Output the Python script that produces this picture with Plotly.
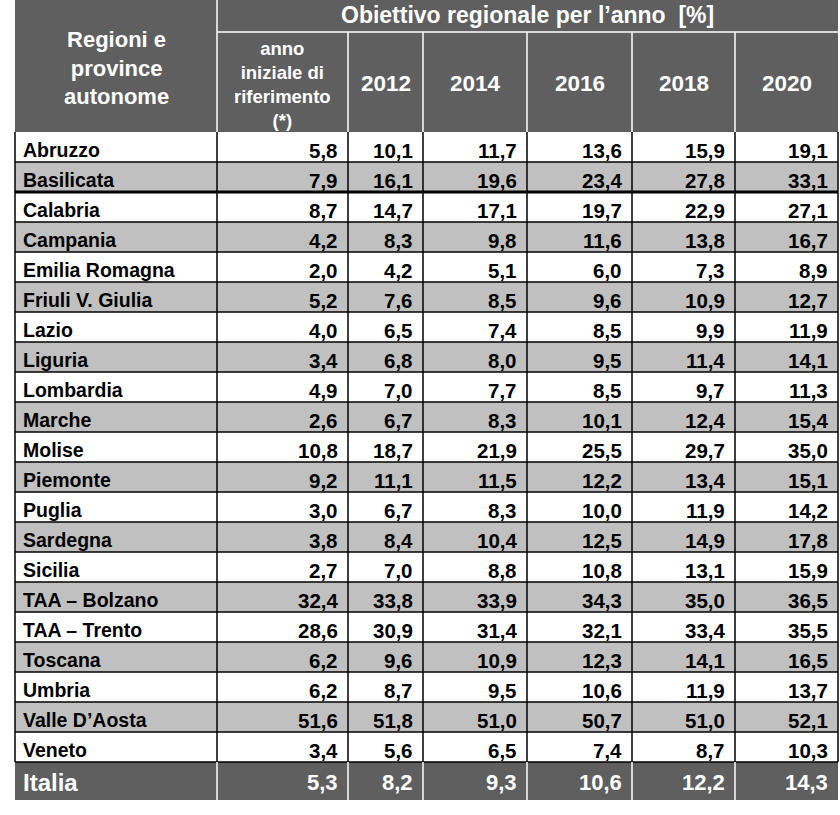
import plotly.graph_objects as go

regions = ["Abruzzo", "Basilicata", "Calabria", "Campania", "Emilia Romagna",
           "Friuli V. Giulia", "Lazio", "Liguria", "Lombardia", "Marche", "Molise",
           "Piemonte", "Puglia", "Sardegna", "Sicilia", "TAA – Bolzano", "TAA – Trento",
           "Toscana", "Umbria", "Valle D’Aosta", "Veneto"]
base_year = [5.8, 7.9, 8.7, 4.2, 2.0, 5.2, 4.0, 3.4, 4.9, 2.6, 10.8, 9.2, 3.0, 3.8, 2.7, 32.4, 28.6, 6.2, 6.2, 51.6, 3.4]
y2012 = [10.1, 16.1, 14.7, 8.3, 4.2, 7.6, 6.5, 6.8, 7.0, 6.7, 18.7, 11.1, 6.7, 8.4, 7.0, 33.8, 30.9, 9.6, 8.7, 51.8, 5.6]
y2014 = [11.7, 19.6, 17.1, 9.8, 5.1, 8.5, 7.4, 8.0, 7.7, 8.3, 21.9, 11.5, 8.3, 10.4, 8.8, 33.9, 31.4, 10.9, 9.5, 51.0, 6.5]
y2016 = [13.6, 23.4, 19.7, 11.6, 6.0, 9.6, 8.5, 9.5, 8.5, 10.1, 25.5, 12.2, 10.0, 12.5, 10.8, 34.3, 32.1, 12.3, 10.6, 50.7, 7.4]
y2018 = [15.9, 27.8, 22.9, 13.8, 7.3, 10.9, 9.9, 11.4, 9.7, 12.4, 29.7, 13.4, 11.9, 14.9, 13.1, 35.0, 33.4, 14.1, 11.9, 51.0, 8.7]
y2020 = [19.1, 33.1, 27.1, 16.7, 8.9, 12.7, 11.9, 14.1, 11.3, 15.4, 35.0, 15.1, 14.2, 17.8, 15.9, 36.5, 35.5, 16.5, 13.7, 52.1, 10.3]
italia_label = "Italia"
italia = [5.3, 8.2, 9.3, 10.6, 12.2, 14.3]
col_headers = ["anno<br>iniziale di<br>riferimento<br>(*)", "2012", "2014", "2016", "2018", "2020"]
first_header = "Regioni e<br>province<br>autonome"
group_header = "Obiettivo regionale per l’anno  [%]"

columns = [base_year, y2012, y2014, y2016, y2018, y2020]

# layout geometry
XE = [15, 217, 348, 423, 527, 632, 735, 838]
Y_TOP, Y_SUB, Y_BODY = 0, 32, 132
ROW_H = 30
ITALIA_H = 38
HDR = "#5f5f5f"
SHADE = "#c0c0c0"
FONT = "Arial, Liberation Sans, sans-serif"

def fmt(v):
    return f"{v:.1f}".replace(".", ",")

shapes = []
ann = []

def rect(x0, y0, x1, y1, color):
    shapes.append(dict(type="rect", xref="x", yref="y", x0=x0, x1=x1, y0=y0, y1=y1,
                       fillcolor=color, line=dict(width=0), layer="below"))

def line(x0, y0, x1, y1, color, w):
    shapes.append(dict(type="line", xref="x", yref="y", x0=x0, x1=x1, y0=y0, y1=y1,
                       line=dict(color=color, width=w), layer="above"))

def text(x, y, s, size, color, xa):
    ann.append(dict(x=x, y=y, xref="x", yref="y", text=f"<b>{s}</b>", showarrow=False,
                    xanchor=xa, yanchor="middle", font=dict(family=FONT, size=size, color=color)))

n = len(regions)
y_end = Y_BODY + n * ROW_H

# header
rect(XE[0], Y_TOP, XE[-1], Y_BODY, HDR)
line(XE[1], Y_SUB, XE[-1], Y_SUB, "white", 1.5)
line(XE[1], Y_TOP, XE[1], Y_BODY, "white", 1.5)
for x in XE[2:-1]:
    line(x, Y_SUB, x, Y_BODY, "white", 1.5)
text((XE[0] + XE[1]) / 2, 68, first_header, 22, "white", "center")
text((XE[1] + XE[-1]) / 2, 15, group_header, 23, "white", "center")
for j, h in enumerate(col_headers):
    cx = (XE[j + 1] + XE[j + 2]) / 2
    if j == 0:
        text(cx, 84, h, 18.5, "white", "center")
    else:
        text(cx, 83, h, 22.5, "white", "center")

# body
for i, name in enumerate(regions):
    y0 = Y_BODY + i * ROW_H
    y1 = y0 + ROW_H
    if i % 2 == 1:
        rect(XE[0], y0, XE[-1], y1, SHADE)
    cy = y0 + ROW_H / 2 + 3
    text(XE[0] + 6, cy, name, 19.5, "black", "left")
    for j, col in enumerate(columns):
        text(XE[j + 2] - 8, cy, fmt(col[i]), 20.5, "black", "right")
    if i < n - 1:
        line(XE[0], y1, XE[-1], y1, "black", 3 if i == 1 else 1.3)

for x in XE:
    line(x, Y_BODY, x, y_end, "black", 1.5)

# Italia row
rect(XE[0], y_end, XE[-1], y_end + ITALIA_H, HDR)
line(XE[0], y_end, XE[-1], y_end, "black", 1.3)
for x in XE[1:-1]:
    line(x, y_end, x, y_end + ITALIA_H, "white", 1.5)
cy = y_end + ITALIA_H / 2 + 1
text(XE[0] + 6, cy, italia_label, 24, "white", "left")
for j, v in enumerate(italia):
    text(XE[j + 2] - 8, cy, fmt(v), 22, "white", "right")

fig = go.Figure()
fig.update_layout(
    width=840, height=815,
    margin=dict(l=0, r=0, t=0, b=0),
    paper_bgcolor="white", plot_bgcolor="white",
    xaxis=dict(range=[0, 840], visible=False, fixedrange=True),
    yaxis=dict(range=[815, 0], visible=False, fixedrange=True),
    shapes=shapes, annotations=ann, showlegend=False,
)
fig.write_html("out.html", config={"displayModeBar": False},
               post_script="document.body.style.margin='0';")
